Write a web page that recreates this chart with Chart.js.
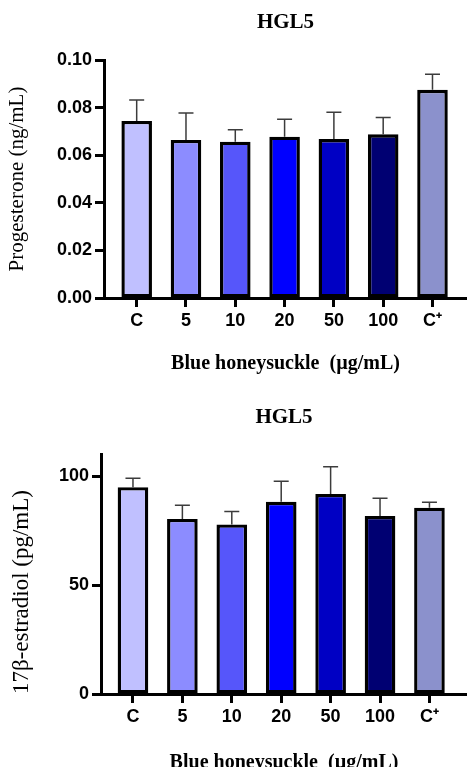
<!DOCTYPE html>
<html>
<head>
<meta charset="utf-8">
<script src="https://cdn.jsdelivr.net/npm/chart.js@4/dist/chart.umd.min.js"></script>
<style>
  html, body { margin: 0; padding: 0; background: #fff; overflow: hidden; width: 467px; height: 767px; }
  canvas { position: absolute; left: 0; }
  #c1 { top: 0; }
  #c2 { top: 390px; }
</style>
</head>
<body>
<canvas id="c1" width="467" height="385"></canvas>
<canvas id="c2" width="467" height="385"></canvas>
<script>
// ---- data ----
const categories = ['C', '5', '10', '20', '50', '100', 'C\u207A'];
const progesteroneMean = [0.0744, 0.0664, 0.0657, 0.0678, 0.0668, 0.0688, 0.0875];
const progesteroneErr  = [0.0088, 0.0113, 0.0050, 0.0073, 0.0112, 0.0070, 0.0065];
const estradiolMean = [95.0, 80.4, 77.9, 88.3, 91.9, 81.8, 85.6];
const estradiolErr  = [4.1, 6.3, 5.9, 9.4, 12.5, 8.1, 2.5];
const progesteroneTicks = [0, 0.02, 0.04, 0.06, 0.08, 0.10];
const estradiolTicks = [0, 50, 100];
const chartTitle = 'HGL5';
const xTitle = 'Blue honeysuckle  (\u00B5g/mL)';
const yTitleTop = 'Progesterone (ng/mL)';
const yTitleBottom = '17\u03B2-estradiol (pg/mL)';

// ---- styles ----
const barColors = ['#c0c0ff', '#8c8cff', '#5656fa', '#0000ff', '#0000c4', '#000072', '#8b91cc'];
const serif = '"Times New Roman", "Liberation Serif", serif';
const sans = 'Arial, "Liberation Sans", sans-serif';

function errorPlugin(means, errs) {
  return {
    id: 'errorBars',
    beforeDatasetsDraw(chart) {
      const { ctx, scales: { x, y } } = chart;
      ctx.save();
      ctx.strokeStyle = '#3c3c3c';
      ctx.lineWidth = 1.5;
      means.forEach((m, i) => {
        const px = x.getPixelForValue(i);
        const y0 = y.getPixelForValue(m);
        const y1 = y.getPixelForValue(m + errs[i]);
        ctx.beginPath();
        ctx.moveTo(px, y0);
        ctx.lineTo(px, y1);
        ctx.moveTo(px - 7.5, y1);
        ctx.lineTo(px + 7.5, y1);
        ctx.stroke();
      });
      ctx.restore();
    }
  };
}

function makeChart(id, cfg) {
  const data = categories.map((c, i) => ({ x: i, y: cfg.means[i] }));
  return new Chart(document.getElementById(id), {
    type: 'bar',
    data: {
      datasets: [{
        data: data,
        backgroundColor: barColors,
        borderColor: '#000',
        borderWidth: 3.4,
        borderSkipped: false,
        barPercentage: 0.62,
        categoryPercentage: 1.0
      }]
    },
    options: {
      responsive: false,
      animation: false,
      devicePixelRatio: 1,
      layout: { padding: 0 },
      plugins: {
        legend: { display: false },
        tooltip: { enabled: false },
        title: {
          display: true,
          text: chartTitle,
          fullSize: false,
          color: '#000',
          font: { family: serif, size: 21, weight: 'bold', lineHeight: 1.2 },
          padding: cfg.titlePad
        }
      },
      scales: {
        x: {
          type: 'linear',
          offset: false,
          min: cfg.xMin,
          max: cfg.xMax,
          afterBuildTicks: (s) => { s.ticks = categories.map((c, i) => ({ value: i })); },
          afterFit: (s) => { s.height = cfg.xHeight; },
          ticks: {
            callback: (v) => categories[v],
            color: '#000',
            font: { family: sans, size: 18, weight: 'bold' },
            padding: 3,
            maxRotation: 0,
            autoSkip: false
          },
          grid: { offset: false, drawOnChartArea: false, drawTicks: true, tickLength: 9, tickWidth: 3, tickColor: '#000' },
          border: { display: true, color: '#000', width: 3 },
          title: {
            display: true,
            text: xTitle,
            color: '#000',
            font: { family: serif, size: 20, weight: 'bold', lineHeight: 1.2 },
            padding: { top: 0, bottom: cfg.xTitlePad }
          }
        },
        y: {
          min: 0,
          max: cfg.yMax,
          afterBuildTicks: (s) => { s.ticks = cfg.ticks.map(v => ({ value: v })); },
          afterFit: (s) => { s.width = cfg.yWidth; },
          ticks: {
            callback: cfg.tickFmt,
            color: '#000',
            font: { family: sans, size: 18, weight: 'bold' },
            padding: 3
          },
          grid: { drawOnChartArea: false, drawTicks: true, tickLength: 9, tickWidth: 3, tickColor: '#000' },
          border: { display: true, color: '#000', width: 3 },
          title: {
            display: true,
            text: cfg.yTitle,
            align: cfg.yTitleAlign,
            color: '#000',
            font: { family: serif, size: cfg.yTitleSize, weight: 'normal', lineHeight: 1.2 },
            padding: { top: cfg.yTitlePad, bottom: 0 }
          }
        }
      }
    },
    plugins: [errorPlugin(cfg.means, cfg.errs)]
  });
}

makeChart('c1', {
  means: progesteroneMean, errs: progesteroneErr, ticks: progesteroneTicks,
  yMax: 0.10, tickFmt: (v) => v.toFixed(2),
  xMin: -0.663, xMax: 6.7, xHeight: 87, xTitlePad: 9,
  yWidth: 104, yTitle: yTitleTop, yTitleSize: 21, yTitlePad: 5, yTitleAlign: 'center',
  titlePad: { top: 10, bottom: 24.8 }
});

makeChart('c2', {
  means: estradiolMean, errs: estradiolErr, ticks: estradiolTicks,
  yMax: 110, tickFmt: (v) => String(v),
  xMin: -0.647, xMax: 6.76, xHeight: 81, xTitlePad: 0,
  yWidth: 101, yTitle: yTitleBottom, yTitleSize: 23, yTitlePad: 8, yTitleAlign: 'start',
  titlePad: { top: 15.4, bottom: 23.9 }
});
</script>
</body>
</html>
